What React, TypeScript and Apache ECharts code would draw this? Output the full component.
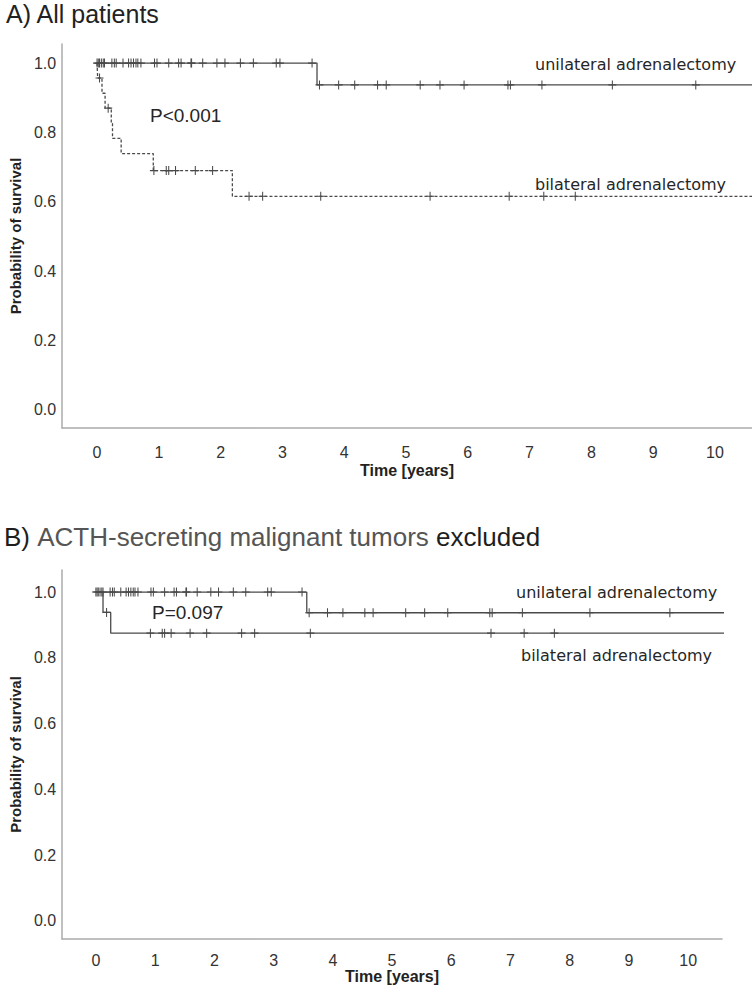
import React, { useEffect, useRef } from "react";
import * as echarts from "echarts";

// ---------- data ----------
const X_TICKS = [0, 1, 2, 3, 4, 5, 6, 7, 8, 9, 10];
const Y_TICKS = [0, 0.2, 0.4, 0.6, 0.8, 1.0];

// Panel A – all patients
const A_UNI_STEPS = [[0, 1], [3.56, 0.937]];
const A_UNI_CENSORED = [0, 0.02, 0.04, 0.07, 0.1, 0.12, 0.24, 0.28, 0.31, 0.42, 0.51, 0.55, 0.59, 0.63, 0.66, 0.71, 0.93, 0.97, 1.16, 1.32, 1.36, 1.52, 1.53, 1.71, 1.94, 2.07, 2.32, 2.53, 2.9, 2.96, 3.48, 3.6, 3.91, 4.17, 4.54, 4.68, 5.23, 5.55, 5.94, 6.65, 6.69, 7.2, 8.34, 9.69];
const A_BIL_STEPS = [[0, 1], [0.01, 0.957], [0.08, 0.913], [0.13, 0.87], [0.23, 0.826], [0.25, 0.783], [0.39, 0.739], [0.91, 0.69], [2.19, 0.616]];
const A_BIL_CENSORED = [0.04, 0.18, 0.92, 1.12, 1.16, 1.27, 1.59, 1.87, 2.46, 2.68, 3.62, 5.39, 6.67, 7.23, 7.74];

// Panel B – ACTH-secreting malignant tumors excluded
const B_UNI_STEPS = [[0, 1], [3.56, 0.937]];
const B_UNI_CENSORED = [0, 0.02, 0.04, 0.07, 0.1, 0.12, 0.24, 0.28, 0.31, 0.42, 0.51, 0.55, 0.59, 0.63, 0.66, 0.71, 0.93, 0.97, 1.16, 1.32, 1.36, 1.52, 1.53, 1.71, 1.94, 2.07, 2.32, 2.53, 2.9, 2.96, 3.48, 3.6, 3.91, 4.17, 4.54, 4.68, 5.23, 5.55, 5.94, 6.65, 6.69, 7.2, 8.34, 9.69];
const B_BIL_STEPS = [[0, 1], [0.12, 0.938], [0.25, 0.875]];
const B_BIL_CENSORED = [0.18, 0.92, 1.12, 1.16, 1.27, 1.59, 1.87, 2.46, 2.68, 3.62, 6.67, 7.23, 7.74];

const FOLLOW_END = 11;

const LABEL_UNI = "unilateral adrenalectomy";
const LABEL_BIL = "bilateral adrenalectomy";
const P_A = "P<0.001";
const P_B = "P=0.097";

// ---------- helpers ----------
const stepLine = (steps: number[][]) => [...steps, [FOLLOW_END, steps[steps.length - 1][1]]];
const survAt = (steps: number[][], t: number) => {
  let s = 1;
  for (const [et, es] of steps) if (et <= t) s = es;
  return s;
};
const censorPts = (steps: number[][], times: number[]) => times.map((t) => [t, survAt(steps, t)]);

const LINE_COLOR = "#4a4a4a";
const AXIS_COLOR = "#ababab";
const FONT = "'Liberation Sans', Arial, sans-serif";
const CROSS = "path://M-0.13,-1H0.13V-0.13H1V0.13H0.13V1H-0.13V0.13H-1V-0.13H-0.13Z";

function lineSeries(steps: number[][], axis: number, dashed: boolean) {
  return {
    type: "line",
    xAxisIndex: axis,
    yAxisIndex: axis,
    step: "end",
    showSymbol: false,
    clip: true,
    silent: true,
    data: stepLine(steps),
    lineStyle: { color: LINE_COLOR, width: 1.3, type: dashed ? [3, 2] : "solid" },
  };
}
function censorSeries(steps: number[][], times: number[], axis: number) {
  return {
    type: "scatter",
    xAxisIndex: axis,
    yAxisIndex: axis,
    symbol: CROSS,
    symbolSize: [8, 9],
    silent: true,
    clip: true,
    data: censorPts(steps, times),
    itemStyle: { color: LINE_COLOR, opacity: 1 },
  };
}

function xAxis(grid: number, min: number, max: number, margin: number, nameGap: number) {
  return {
    type: "value",
    gridIndex: grid,
    min,
    max,
    axisLine: { show: true, onZero: false, lineStyle: { color: AXIS_COLOR, width: 1.5 } },
    axisTick: { show: false },
    splitLine: { show: false },
    axisLabel: { customValues: X_TICKS, color: "#333", fontSize: 16, fontFamily: FONT, margin },
    name: "Time [years]",
    nameLocation: "middle",
    nameGap,
    nameTextStyle: { color: "#222", fontSize: 16, fontWeight: "bold", fontFamily: FONT },
  };
}
function yAxis(grid: number, min: number, max: number, nameGap: number) {
  return {
    type: "value",
    gridIndex: grid,
    min,
    max,
    axisLine: { show: true, onZero: false, lineStyle: { color: AXIS_COLOR, width: 1.5 } },
    axisTick: { show: false },
    splitLine: { show: false },
    axisLabel: {
      customValues: Y_TICKS,
      color: "#333",
      fontSize: 16,
      fontFamily: FONT,
      margin: 6,
      formatter: (v: number) => v.toFixed(1),
    },
    name: "Probability of survival",
    nameLocation: "middle",
    nameGap,
    nameTextStyle: { color: "#222", fontSize: 15, fontWeight: "bold", fontFamily: FONT },
  };
}

function txt(text: string, x: number, y: number, size: number, family: string) {
  return {
    type: "text",
    x,
    y,
    silent: true,
    style: { text, fill: "#262626", fontSize: size, fontFamily: family, verticalAlign: "middle", align: "left" },
  };
}

export default function App() {
  const ref = useRef<HTMLDivElement>(null);
  useEffect(() => {
    document.body.style.margin = "0";
    const chart = echarts.init(ref.current!, null, { renderer: "svg" });
    chart.setOption({
      animation: false,
      backgroundColor: "#fff",
      title: [
        {
          text: "A) All patients",
          left: 6,
          top: 0,
          padding: 0,
          textStyle: { color: "#222", fontSize: 25, fontWeight: "normal", fontFamily: FONT, lineHeight: 28 },
        },
        {
          text: "{a|B) }{b|ACTH-secreting malignant tumors}{a| excluded}",
          left: 4,
          top: 523,
          padding: 0,
          textStyle: {
            fontWeight: "normal",
            fontSize: 26,
            fontFamily: FONT,
            rich: {
              a: { color: "#1e1e1e", fontSize: 26, fontWeight: "normal", fontFamily: FONT, lineHeight: 28 },
              b: { color: "#555", fontSize: 26, fontWeight: "normal", fontFamily: FONT, lineHeight: 28 },
            },
          },
        },
      ],
      grid: [
        { left: 60, top: 44, width: 692, height: 384, containLabel: false },
        { left: 58, top: 570, width: 664, height: 369, containLabel: false },
      ],
      xAxis: [xAxis(0, -0.565, 10.6, 16, 34), xAxis(1, -0.57, 10.57, 13, 27)],
      yAxis: [yAxis(0, -0.052, 1.055, 39), yAxis(1, -0.055, 1.067, 37)],
      series: [
        lineSeries(A_UNI_STEPS, 0, false),
        censorSeries(A_UNI_STEPS, A_UNI_CENSORED, 0),
        lineSeries(A_BIL_STEPS, 0, true),
        censorSeries(A_BIL_STEPS, A_BIL_CENSORED, 0),
        lineSeries(B_UNI_STEPS, 1, false),
        censorSeries(B_UNI_STEPS, B_UNI_CENSORED, 1),
        lineSeries(B_BIL_STEPS, 1, false),
        censorSeries(B_BIL_STEPS, B_BIL_CENSORED, 1),
      ],
      graphic: [
        txt(LABEL_UNI, 535, 64.5, 16, "'DejaVu Sans', sans-serif"),
        txt(LABEL_BIL, 535, 184.5, 16, "'DejaVu Sans', sans-serif"),
        txt(P_A, 150, 115, 19, FONT),
        txt(LABEL_UNI, 516, 592.5, 16, "'DejaVu Sans', sans-serif"),
        txt(LABEL_BIL, 521, 655, 16, "'DejaVu Sans', sans-serif"),
        txt(P_B, 152, 612, 19, FONT),
      ],
    });
    return () => chart.dispose();
  }, []);
  return <div ref={ref} style={{ width: 752, height: 994 }} />;
}
